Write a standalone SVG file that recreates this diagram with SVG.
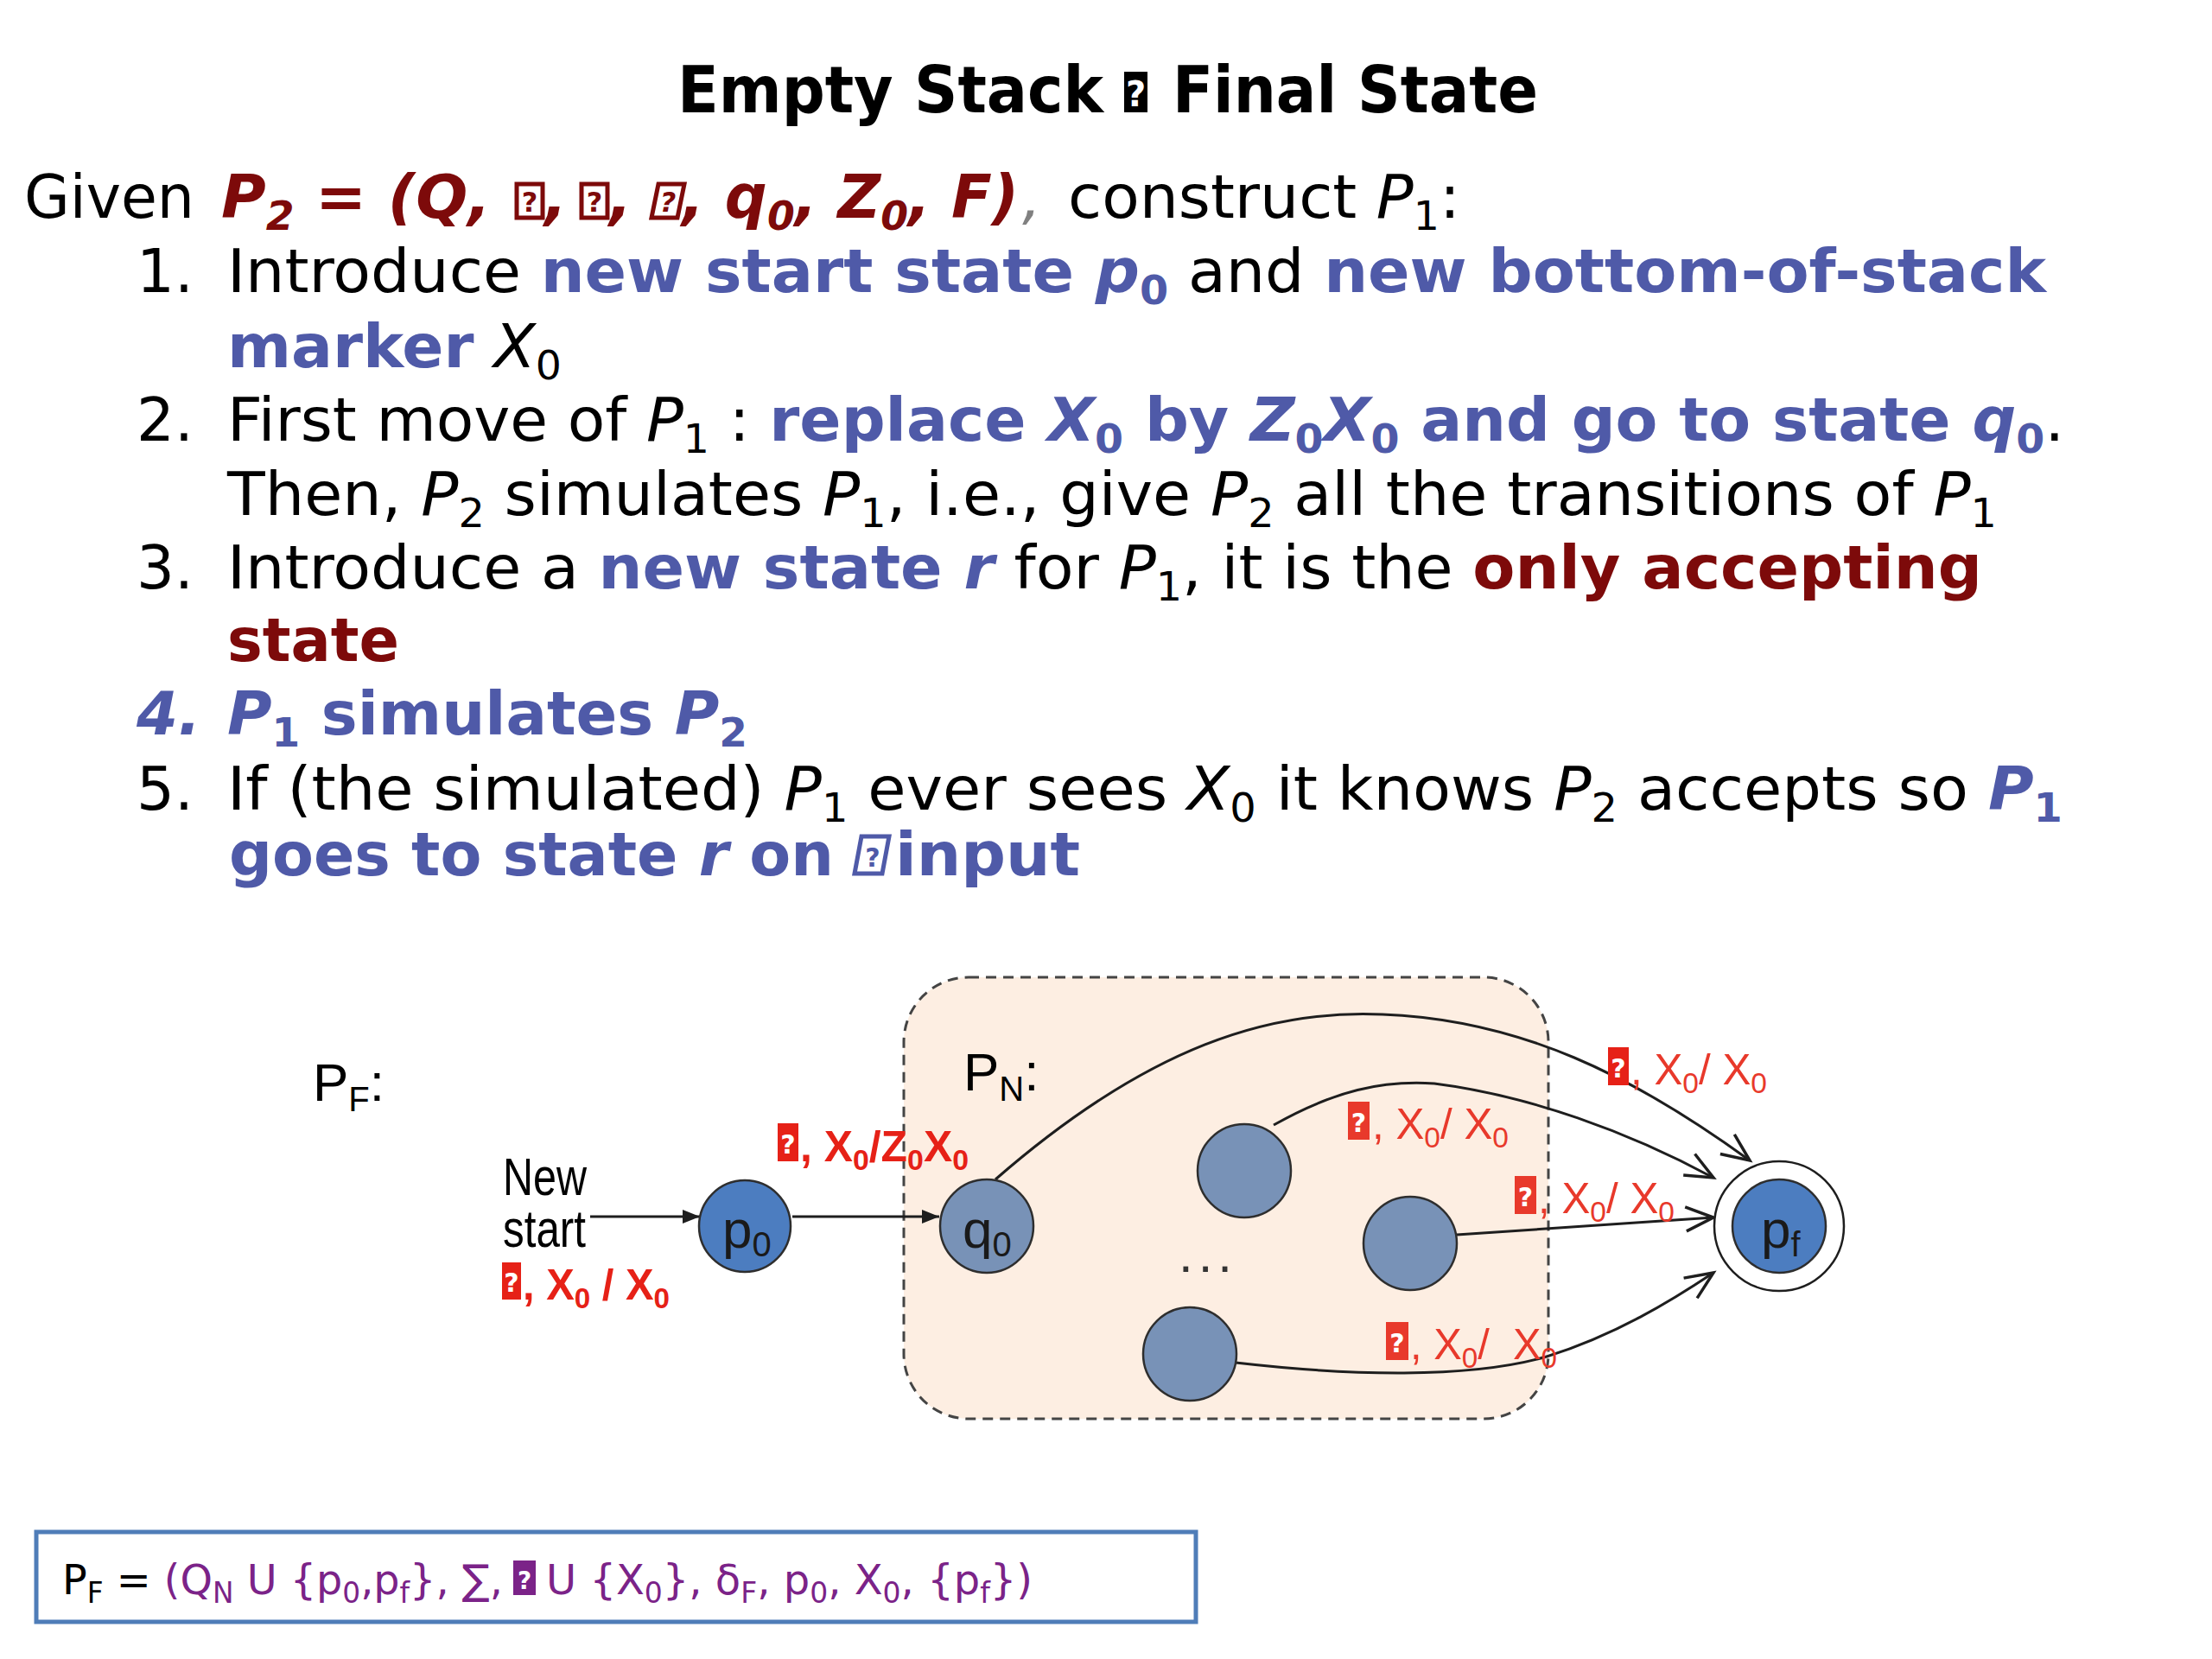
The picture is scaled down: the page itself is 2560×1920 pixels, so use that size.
<svg xmlns="http://www.w3.org/2000/svg" width="2560" height="1920" viewBox="0 0 2560 1920">
<style>
.b{font-family:"DejaVu Sans","Liberation Sans",sans-serif;font-size:69px;fill:#000}
.t{font-family:"DejaVu Sans","Liberation Sans",sans-serif;font-size:74px;font-weight:bold;fill:#000}
.bl{fill:#4F5AA8;font-weight:bold}
.rd{fill:#7D0A0A;font-weight:bold}
.gy{fill:#808080}
.it{font-style:italic}
.lab{font-family:"Liberation Sans",Arial,sans-serif;font-size:50px;fill:#E8392B}
.labb{font-family:"Liberation Sans",Arial,sans-serif;font-size:50px;font-weight:bold;fill:#E62117}
.nl{font-family:"Liberation Sans",Arial,sans-serif;font-size:62px;fill:#1a1a1a}
.dg{font-family:"Liberation Sans",Arial,sans-serif;font-size:62px;fill:#000}
.q{font-family:"DejaVu Sans",sans-serif;font-weight:bold;fill:#fff;text-anchor:middle}
.conn{fill:none;stroke:#1e1e1e;stroke-width:3}
.node{stroke:#2e2e2e;stroke-width:2.5}
.pb{fill:#4C7DC0}
.gb{fill:#7892B7}
.ft{font-family:"DejaVu Sans","Liberation Sans",sans-serif;font-size:48px}
</style>
<defs>
<marker id="fill" markerUnits="userSpaceOnUse" markerWidth="22" markerHeight="18" refX="20" refY="8" orient="auto" overflow="visible">
<path d="M0,0 L20,8 L0,16 z" fill="#1e1e1e"/>
</marker>
<marker id="open" markerUnits="userSpaceOnUse" markerWidth="40" markerHeight="34" refX="34" refY="15" orient="auto" overflow="visible">
<path d="M2,1 L34,15 L2,29" fill="none" stroke="#1e1e1e" stroke-width="3.5"/>
</marker>
</defs>
<rect width="2560" height="1920" fill="#fff"/>

<g id="title">
<text class="t" x="784" y="130" textLength="493" lengthAdjust="spacingAndGlyphs">Empty Stack</text>
<rect x="1301" y="83" width="27" height="47" fill="#000"/>
<text class="q" x="1314.5" y="123" font-size="40">?</text>
<text class="t" x="1357" y="130" textLength="423" lengthAdjust="spacingAndGlyphs">Final State</text>
</g>

<g id="text-body">
<text class="b" x="28" y="252" textLength="197" lengthAdjust="spacingAndGlyphs">Given</text>
<text class="b rd it" x="256" y="252" textLength="312" lengthAdjust="spacingAndGlyphs">P<tspan font-size="46" dy="14">2</tspan><tspan dy="-14"> = (Q,</tspan></text>
<rect x="598" y="213" width="30" height="39" fill="none" stroke="#7D0A0A" stroke-width="5"/>
<text x="613" y="245" font-size="32" font-family="DejaVu Sans,sans-serif" font-weight="bold" fill="#7D0A0A" text-anchor="middle">?</text>
<text class="b rd it" x="630" y="252">,</text>
<rect x="673" y="213" width="30" height="39" fill="none" stroke="#7D0A0A" stroke-width="5"/>
<text x="688" y="245" font-size="32" font-family="DejaVu Sans,sans-serif" font-weight="bold" fill="#7D0A0A" text-anchor="middle">?</text>
<text class="b rd it" x="705" y="252">,</text>
<polygon points="762,213 792,213 784,252 754,252" fill="none" stroke="#7D0A0A" stroke-width="5"/>
<text x="773" y="245" font-size="32" font-family="DejaVu Sans,sans-serif" font-weight="bold" font-style="italic" fill="#7D0A0A" text-anchor="middle">?</text>
<text class="b rd it" x="789" y="252" textLength="390" lengthAdjust="spacingAndGlyphs">, q<tspan font-size="46" dy="14">0</tspan><tspan dy="-14">, Z</tspan><tspan font-size="46" dy="14">0</tspan><tspan dy="-14">, F)</tspan></text>
<text class="b gy it" x="1183" y="252">,</text>
<text class="b" x="1236" y="252" textLength="454" lengthAdjust="spacingAndGlyphs">construct <tspan class="it">P</tspan><tspan font-size="46" dy="14">1</tspan><tspan dy="-14">:</tspan></text>

<text class="b" x="158" y="338">1.</text>
<text class="b" x="263" y="338" textLength="2105" lengthAdjust="spacingAndGlyphs">Introduce <tspan class="bl">new start state <tspan class="it">p</tspan><tspan font-size="46" dy="14">0</tspan></tspan><tspan dy="-14"> and </tspan><tspan class="bl">new bottom-of-stack</tspan></text>
<text class="b" x="263" y="425" textLength="387" lengthAdjust="spacingAndGlyphs"><tspan class="bl">marker</tspan> <tspan class="it">X</tspan><tspan font-size="46" dy="14">0</tspan></text>

<text class="b" x="158" y="510">2.</text>
<text class="b" x="263" y="510" textLength="2126" lengthAdjust="spacingAndGlyphs">First move of <tspan class="it">P</tspan><tspan font-size="46" dy="14">1</tspan><tspan dy="-14"> : </tspan><tspan class="bl">replace <tspan class="it">X</tspan><tspan font-size="46" dy="14">0</tspan><tspan dy="-14"> by </tspan><tspan class="it">Z</tspan><tspan font-size="46" dy="14">0</tspan><tspan class="it" dy="-14">X</tspan><tspan font-size="46" dy="14">0</tspan><tspan dy="-14"> and go to state </tspan><tspan class="it">q</tspan><tspan font-size="46" dy="14">0</tspan></tspan><tspan dy="-14">.</tspan></text>
<text class="b" x="263" y="596" textLength="2048" lengthAdjust="spacingAndGlyphs">Then, <tspan class="it">P</tspan><tspan font-size="46" dy="14">2</tspan><tspan dy="-14"> simulates </tspan><tspan class="it">P</tspan><tspan font-size="46" dy="14">1</tspan><tspan dy="-14">, i.e., give </tspan><tspan class="it">P</tspan><tspan font-size="46" dy="14">2</tspan><tspan dy="-14"> all the transitions of </tspan><tspan class="it">P</tspan><tspan font-size="46" dy="14">1</tspan></text>

<text class="b" x="158" y="681">3.</text>
<text class="b" x="263" y="681" textLength="2031" lengthAdjust="spacingAndGlyphs">Introduce a <tspan class="bl">new state <tspan class="it">r</tspan></tspan> for <tspan class="it">P</tspan><tspan font-size="46" dy="14">1</tspan><tspan dy="-14">, it is the </tspan><tspan class="rd">only accepting</tspan></text>
<text class="b rd" x="263" y="765" textLength="199" lengthAdjust="spacingAndGlyphs">state</text>

<text class="b bl it" x="158" y="850">4.</text>
<text class="b bl" x="263" y="850" textLength="602" lengthAdjust="spacingAndGlyphs"><tspan class="it">P</tspan><tspan font-size="46" dy="14">1</tspan><tspan dy="-14"> simulates </tspan><tspan class="it">P</tspan><tspan font-size="46" dy="14">2</tspan></text>

<text class="b" x="158" y="937">5.</text>
<text class="b" x="263" y="937" textLength="2124" lengthAdjust="spacingAndGlyphs">If (the simulated) <tspan class="it">P</tspan><tspan font-size="46" dy="14">1</tspan><tspan dy="-14"> ever sees </tspan><tspan class="it">X</tspan><tspan font-size="46" dy="14">0</tspan><tspan dy="-14"> it knows </tspan><tspan class="it">P</tspan><tspan font-size="46" dy="14">2</tspan><tspan dy="-14"> accepts so </tspan><tspan class="bl it">P</tspan><tspan class="bl" font-size="46" dy="14">1</tspan></text>
<text class="b bl" x="265" y="1013" textLength="700" lengthAdjust="spacingAndGlyphs">goes to state <tspan class="it">r</tspan> on</text>
<polygon points="997,968 1029,968 1021,1011 989,1011" fill="none" stroke="#4F5AA8" stroke-width="5"/>
<text x="1010" y="1003" font-size="30" font-family="DejaVu Sans,sans-serif" font-weight="bold" fill="#4F5AA8" text-anchor="middle">?</text>
<text class="b bl" x="1036" y="1013" textLength="214" lengthAdjust="spacingAndGlyphs">input</text>
</g>

<g id="region-PN">
<rect x="1046" y="1131" width="746" height="511" rx="75" ry="75" fill="#FDEEE2" stroke="#444" stroke-width="3" stroke-dasharray="12 8"/>
<text class="dg" x="1115" y="1262" fill="#333">P<tspan font-size="40" dy="12">N</tspan><tspan dy="-12">:</tspan></text>
</g>
<text id="label-PF" class="dg" x="362" y="1274">P<tspan font-size="40" dy="12">F</tspan><tspan dy="-12">:</tspan></text>

<g id="connectors">
<line class="conn" x1="683" y1="1408" x2="810" y2="1408" marker-end="url(#fill)"/>
<line class="conn" x1="917" y1="1408" x2="1087" y2="1408" marker-end="url(#fill)"/>
<path class="conn" d="M1152,1365 C1330,1210 1470,1168 1600,1174 C1760,1180 1890,1245 2025,1343" marker-end="url(#open)"/>
<path class="conn" d="M1474,1302 C1545,1262 1600,1250 1660,1254 C1770,1268 1885,1310 1983,1363" marker-end="url(#open)"/>
<path class="conn" d="M1686,1429 C1800,1421 1900,1414 1983,1409" marker-end="url(#open)"/>
<path class="conn" d="M1430,1577 C1560,1592 1700,1596 1790,1570 C1870,1545 1935,1505 1983,1473" marker-end="url(#open)"/>
</g>

<g id="node-p0">
<circle class="node pb" cx="862" cy="1419" r="53"/>
<text class="nl" x="836" y="1444">p<tspan font-size="40" dy="10">0</tspan></text>
</g>
<g id="node-q0">
<circle class="node gb" cx="1142" cy="1419" r="54"/>
<text class="nl" x="1114" y="1444" fill="#333">q<tspan font-size="40" dy="10">0</tspan></text>
</g>
<g id="node-a"><circle class="node gb" cx="1440" cy="1355" r="54"/></g>
<g id="node-b"><circle class="node gb" cx="1632" cy="1439" r="54"/></g>
<g id="node-c"><circle class="node gb" cx="1377" cy="1567" r="54"/></g>
<g id="node-pf">
<circle cx="2059" cy="1419" r="75" fill="#fff" stroke="#1e1e1e" stroke-width="2.5"/>
<circle class="node pb" cx="2059" cy="1419" r="54"/>
<text class="nl" x="2038" y="1444">p<tspan font-size="40" dy="10">f</tspan></text>
</g>
<text id="dots" x="1398" y="1472" font-family="Liberation Sans,Arial,sans-serif" font-size="60" fill="#333" text-anchor="middle" letter-spacing="6">...</text>

<g id="labels">
<text class="dg" x="582" y="1383" font-size="48" textLength="97" lengthAdjust="spacingAndGlyphs">New</text>
<text class="dg" x="582" y="1443" font-size="48" textLength="96" lengthAdjust="spacingAndGlyphs">start</text>

<rect x="581" y="1461" width="22" height="43" fill="#E62117"/>
<text class="q" x="592" y="1495" font-size="30">?</text>
<text class="labb" x="605" y="1504" textLength="170" lengthAdjust="spacingAndGlyphs">, X<tspan font-size="34" dy="10">0</tspan><tspan dy="-10"> / X</tspan><tspan font-size="34" dy="10">0</tspan></text>

<rect x="900" y="1300" width="24" height="44" fill="#E62117"/>
<text class="q" x="912" y="1335" font-size="30">?</text>
<text class="labb" x="926" y="1344" textLength="195" lengthAdjust="spacingAndGlyphs">, X<tspan font-size="34" dy="10">0</tspan><tspan dy="-10">/Z</tspan><tspan font-size="34" dy="10">0</tspan><tspan dy="-10">X</tspan><tspan font-size="34" dy="10">0</tspan></text>

<rect x="1861" y="1212" width="24" height="44" fill="#E62117"/>
<text class="q" x="1873" y="1247" font-size="30">?</text>
<text class="lab" x="1887" y="1255" textLength="158" lengthAdjust="spacingAndGlyphs">, X<tspan font-size="34" dy="10">0</tspan><tspan dy="-10">/ X</tspan><tspan font-size="34" dy="10">0</tspan></text>

<rect x="1560" y="1275" width="25" height="44" fill="#E8392B"/>
<text class="q" x="1572.5" y="1310" font-size="30">?</text>
<text class="lab" x="1588" y="1318" textLength="158" lengthAdjust="spacingAndGlyphs">, X<tspan font-size="34" dy="10">0</tspan><tspan dy="-10">/ X</tspan><tspan font-size="34" dy="10">0</tspan></text>

<rect x="1753" y="1361" width="25" height="44" fill="#E8392B"/>
<text class="q" x="1765.5" y="1396" font-size="30">?</text>
<text class="lab" x="1780" y="1404" textLength="158" lengthAdjust="spacingAndGlyphs">, X<tspan font-size="34" dy="10">0</tspan><tspan dy="-10">/ X</tspan><tspan font-size="34" dy="10">0</tspan></text>

<rect x="1604" y="1530" width="26" height="44" fill="#E8392B"/>
<text class="q" x="1617" y="1565" font-size="30">?</text>
<text class="lab" x="1632" y="1573" xml:space="preserve" textLength="170" lengthAdjust="spacingAndGlyphs">, X<tspan font-size="34" dy="10">0</tspan><tspan dy="-10">/  X</tspan><tspan font-size="34" dy="10">0</tspan></text>
</g>

<g id="formula-box">
<rect x="42" y="1773" width="1342" height="104" fill="#fff" stroke="#4F7DB8" stroke-width="5"/>
<text class="ft" x="72" y="1845" textLength="510" lengthAdjust="spacingAndGlyphs">P<tspan font-size="33" dy="10">F</tspan><tspan dy="-10"> = </tspan><tspan fill="#7B2388">(Q<tspan font-size="33" dy="10">N</tspan><tspan dy="-10"> U {p</tspan><tspan font-size="33" dy="10">0</tspan><tspan dy="-10">,p</tspan><tspan font-size="33" dy="10">f</tspan><tspan dy="-10">}, ∑,</tspan></tspan></text>
<rect x="594" y="1806" width="26" height="40" fill="#7B2388"/>
<text class="q" x="607" y="1839" font-size="28">?</text>
<text class="ft" x="632" y="1845" fill="#7B2388">U {X<tspan font-size="33" dy="10">0</tspan><tspan dy="-10">}, δ</tspan><tspan font-size="33" dy="10">F</tspan><tspan dy="-10">, p</tspan><tspan font-size="33" dy="10">0</tspan><tspan dy="-10">, X</tspan><tspan font-size="33" dy="10">0</tspan><tspan dy="-10">, {p</tspan><tspan font-size="33" dy="10">f</tspan><tspan dy="-10">})</tspan></text>
</g>
</svg>
